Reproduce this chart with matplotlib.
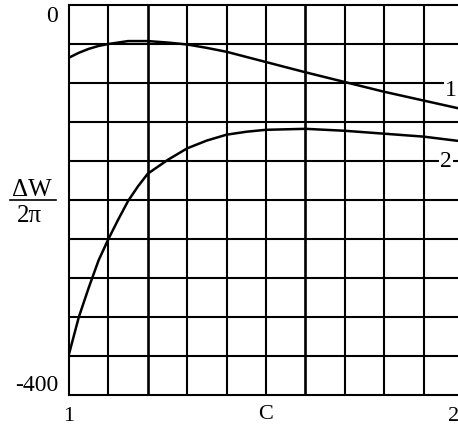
import numpy as np
import matplotlib
matplotlib.use('Agg')
import matplotlib.pyplot as plt
import matplotlib.transforms as mtransforms
from matplotlib.lines import Line2D

plt.rcParams['font.family'] = ['Liberation Serif', 'DejaVu Serif']

# curve 1
c1 = [1.0, 1.025, 1.05, 1.075, 1.1, 1.15, 1.2, 1.25, 1.3, 1.35, 1.4, 1.5, 1.6, 1.7, 1.8, 1.9, 2.0]
w1 = [-54, -49, -45, -42, -40, -37, -37, -38.5, -40.5, -44, -48, -58.5, -69, -79, -89, -98, -107]

# curve 2
c2 = [1.0, 1.025, 1.05, 1.075, 1.1, 1.125, 1.15, 1.175, 1.2, 1.25, 1.3, 1.35, 1.4, 1.45,
      1.5, 1.6, 1.7, 1.8, 1.9, 2.0]
w2 = [-358, -320, -290, -262, -240, -220, -201, -186, -173, -159, -147, -139, -133, -130,
      -128, -127, -129, -132, -135, -140]

x_ticks = [1, 2]
y_ticks = [-400, 0]

fig = plt.figure(figsize=(4.58, 4.27), dpi=100)
ax = fig.add_axes([69/458, 1-396/427, 394/458, 390/427])

# grid
for xv in np.arange(1.1, 2.0, 0.1):
    lw = 1.9 if round(xv, 1) in (1.2, 1.6) else 1.5
    ax.axvline(xv, color='black', lw=lw, zorder=1)
for yv in np.arange(-360, 0, 40):
    ax.axhline(yv, color='black', lw=1.5, zorder=1)

ax.plot(c1, w1, color='black', lw=1.8, zorder=3, solid_joinstyle='round')
ax.plot(c2, w2, color='black', lw=1.8, zorder=3, solid_joinstyle='round')

box = dict(facecolor='white', edgecolor='none', pad=1)
ax.text(1.97, -87, '1', fontsize=17, ha='center', va='center', bbox=box, zorder=4)
ax.text(1.957, -160, '2', fontsize=17, ha='center', va='center', bbox=box, zorder=4)

ax.set_xlim(1, 2)
ax.set_ylim(-400, 0)
for s in ax.spines.values():
    s.set_linewidth(1.5)

ax.set_xticks(x_ticks)
ax.set_xticklabels(['1', '2'], fontsize=16)
ax.set_yticks(y_ticks)
ax.set_yticklabels(['-400', '0'], fontsize=17)
ax.tick_params(length=0, pad=8)
ax.get_yticklabels()[0].set_va('bottom')
ax.get_yticklabels()[1].set_va('top')
last = ax.get_xticklabels()[1]
last.set_ha('right')
last.set_transform(last.get_transform() +
                   mtransforms.ScaledTranslation(-4/100, 0, fig.dpi_scale_trans))

ax.set_xlabel('C', fontsize=16)
ax.xaxis.set_label_coords(0.5, -0.022)

# y-axis label as a stacked fraction
fig.text(32/458, 1-190/427, 'ΔW', fontsize=18, ha='center', va='center')
fig.text(29/458, 1-216/427, '2π', fontsize=18, ha='center', va='center')
fig.add_artist(Line2D([10/458, 56/458], [1-201/427, 1-201/427],
                      transform=fig.transFigure, color='black', lw=1.2))

fig.savefig('out.png', dpi=100)
